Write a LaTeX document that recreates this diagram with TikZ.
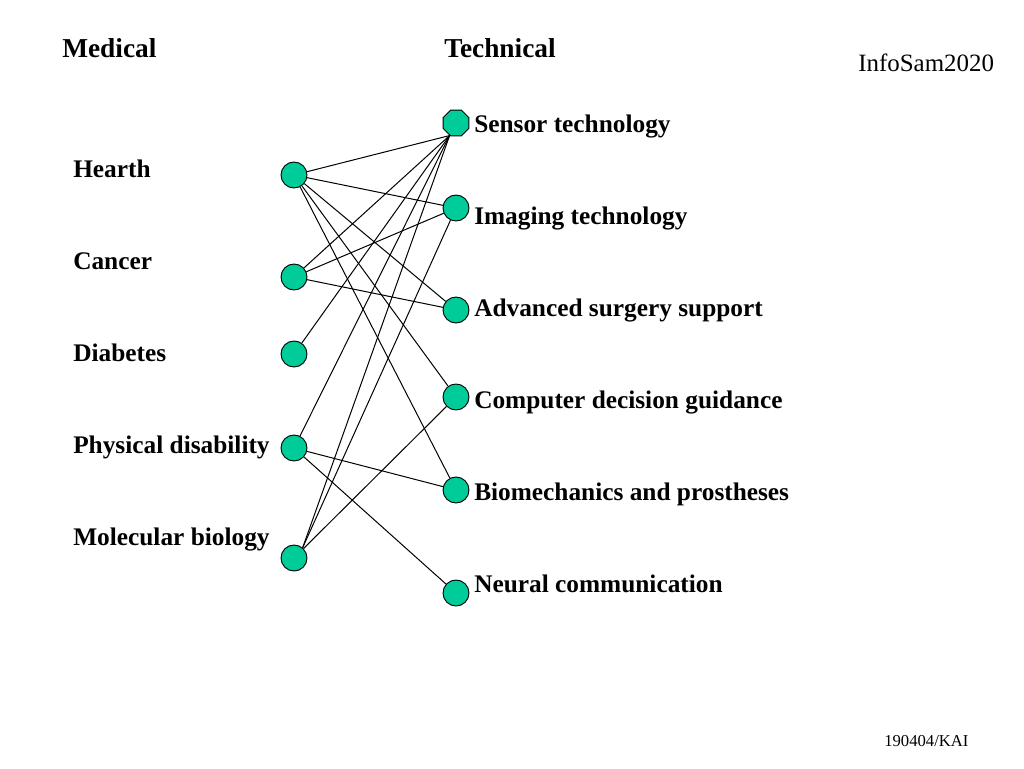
\documentclass[tikz,border=0pt]{standalone}
\usepackage{fontspec}
\setmainfont{Liberation Serif}
\usetikzlibrary{shapes.geometric}
\definecolor{dotfill}{RGB}{0,204,153}
\tikzset{
  dot/.style={circle,draw=black,line width=0.7pt,fill=dotfill,minimum size=19.5pt,inner sep=0pt},
  octdot/.style={regular polygon,regular polygon sides=8,draw=black,line width=0.7pt,fill=dotfill,minimum size=21pt,inner sep=0pt},
  lbl/.style={anchor=base west,inner sep=0pt,font=\fontsize{19}{22}\selectfont\bfseries},
  head/.style={anchor=base west,inner sep=0pt,font=\fontsize{20.5}{24}\selectfont\bfseries},
  link/.style={draw=black,line width=0.75pt}
}
\begin{document}
\begin{tikzpicture}[x=0.75pt,y=-0.75pt]
\useasboundingbox[fill=white] (0,0) rectangle (1024,768);
% headings
\node[head] (hmed) at (62,57) {Medical};
\node[head] (htech) at (444,57) {Technical};
\node[anchor=base west,inner sep=0pt,font=\fontsize{18.7}{22}\selectfont] (info) at (858,71) {InfoSam2020};
\node[anchor=base west,inner sep=0pt,font=\fontsize{12.5}{15}\selectfont] (foot) at (884,746) {190404/KAI};
% left labels
\node[lbl] (lH) at (73,177) {Hearth};
\node[lbl] (lC) at (73,269) {Cancer};
\node[lbl] (lD) at (73,361) {Diabetes};
\node[lbl] (lP) at (73,453) {Physical disability};
\node[lbl] (lM) at (73,545) {Molecular biology};
% right labels
\node[lbl] (rS) at (474,132) {Sensor technology};
\node[lbl] (rI) at (474,224) {Imaging technology};
\node[lbl] (rA) at (474,316) {Advanced surgery support};
\node[lbl] (rCD) at (474,408) {Computer decision guidance};
\node[lbl] (rB) at (474,500) {Biomechanics and prostheses};
\node[lbl] (rN) at (474,592) {Neural communication};
% left dots
\node[dot] (H) at (294,175) {};
\node[dot] (C) at (294,277) {};
\node[dot] (D) at (294,354) {};
\node[dot] (P) at (294,448) {};
\node[dot] (M) at (294,558) {};
% right dots
\node[octdot] (S) at (456,123) {};
\node[dot] (I) at (456,208) {};
\node[dot] (A) at (456,310) {};
\node[dot] (CD) at (456,397) {};
\node[dot] (B) at (456,490) {};
\node[dot] (N) at (456,593) {};
% connectors
\draw[link] (H) -- (S.243);
\draw[link] (H) -- (I);
\draw[link] (H) -- (A);
\draw[link] (H) -- (CD);
\draw[link] (H) -- (B);
\draw[link] (C) -- (S.243);
\draw[link] (C) -- (I);
\draw[link] (C) -- (A);
\draw[link] (D) -- (S.243);
\draw[link] (P) -- (S.243);
\draw[link] (P) -- (B);
\draw[link] (P) -- (N);
\draw[link] (M.50) -- (S.243);
\draw[link] (M.50) -- (I);
\draw[link] (M) -- (CD);
\end{tikzpicture}
\end{document}
